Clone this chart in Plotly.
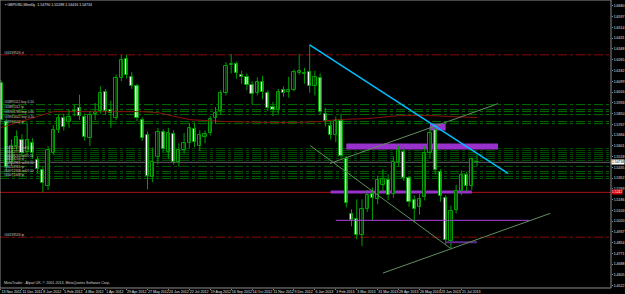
import plotly.graph_objects as go

# ---------------- data ----------------
date_labels = ["13 Nov 2011", "11 Dec 2011", "8 Jan 2012", "5 Feb 2012", "4 Mar 2012", "1 Apr 2012",
               "29 Apr 2012", "27 May 2012", "24 Jun 2012", "22 Jul 2012", "19 Aug 2012", "16 Sep 2012",
               "14 Oct 2012", "11 Nov 2012", "9 Dec 2012", "6 Jan 2013", "3 Feb 2013", "3 Mar 2013",
               "31 Mar 2013", "28 Apr 2013", "26 May 2013", "23 Jun 2013", "21 Jul 2013"]
date_bars = [0, 4, 8, 12, 16, 20, 24, 28, 32, 36, 40, 44, 48, 52, 56, 60, 64, 68, 72, 76, 80, 84, 88]

opens = [1.6088, 1.5788, 1.5480, 1.5596, 1.5649, 1.5557, 1.5626, 1.5488, 1.5411, 1.5288,
         1.5549, 1.5726, 1.5819, 1.5788, 1.5865, 1.5895, 1.5826, 1.5665, 1.5849, 1.5872,
         1.6019, 1.5880, 1.5819, 1.6126, 1.6273, 1.6134, 1.6065, 1.5803, 1.5688, 1.5357,
         1.5511, 1.5711, 1.5557, 1.5696, 1.5473, 1.5572, 1.5626, 1.5734, 1.5603, 1.5672,
         1.5703, 1.5819, 1.5872, 1.6011, 1.6226, 1.6234, 1.6149, 1.6134, 1.6072, 1.6011,
         1.6095, 1.6011, 1.5903, 1.5880, 1.6034, 1.6019, 1.6034, 1.6165, 1.6157, 1.6172,
         1.6065, 1.6126, 1.5849, 1.5757, 1.5688, 1.5796, 1.5503, 1.5073, 1.5034, 1.4911,
         1.5111, 1.5226, 1.5188, 1.5296, 1.5334, 1.5226, 1.5473, 1.5557, 1.5349, 1.5180,
         1.5126, 1.5203, 1.5549, 1.5726, 1.5400, 1.5196, 1.4865, 1.5103, 1.5250, 1.5373,
         1.5288, 1.54790]
highs = [1.6110, 1.5810, 1.5650, 1.5720, 1.5690, 1.5780, 1.5660, 1.5520, 1.5440, 1.5600,
         1.5760, 1.5840, 1.5850, 1.5880, 1.5920, 1.5995, 1.5850, 1.5870, 1.5930, 1.6060,
         1.6040, 1.5950, 1.6150, 1.6300, 1.6303, 1.6170, 1.6080, 1.5820, 1.5710, 1.5588,
         1.5740, 1.5730, 1.5740, 1.5720, 1.5620, 1.5700, 1.5780, 1.5780, 1.5720, 1.5720,
         1.5830, 1.5900, 1.6030, 1.6245, 1.6309, 1.6250, 1.6180, 1.6160, 1.6100, 1.6130,
         1.6140, 1.6030, 1.5940, 1.6040, 1.6060, 1.6134, 1.6190, 1.6311, 1.6203, 1.6380,
         1.6180, 1.6160, 1.5895, 1.5790, 1.5826, 1.5849, 1.5520, 1.5111, 1.5188, 1.5188,
         1.5260, 1.5280, 1.5370, 1.5420, 1.5380, 1.5520, 1.5603, 1.5590, 1.5370, 1.5220,
         1.5230, 1.5600, 1.5750, 1.5757, 1.5420, 1.5220, 1.5140, 1.5300, 1.5410, 1.5400,
         1.5510, 1.55288]
lows = [1.5780, 1.5410, 1.5450, 1.5560, 1.5520, 1.5530, 1.5500, 1.5390, 1.5242, 1.5260,
        1.5530, 1.5700, 1.5720, 1.5740, 1.5830, 1.5800, 1.5640, 1.5600, 1.5800, 1.5850,
        1.5840, 1.5740, 1.5800, 1.6100, 1.6120, 1.6040, 1.5790, 1.5640, 1.5265, 1.5320,
        1.5460, 1.5550, 1.5500, 1.5457, 1.5440, 1.5540, 1.5580, 1.5590, 1.5560, 1.5620,
        1.5680, 1.5770, 1.5840, 1.5990, 1.6160, 1.6120, 1.6080, 1.6030, 1.5918, 1.5990,
        1.5960, 1.5870, 1.5830, 1.5850, 1.5980, 1.5972, 1.6020, 1.6150, 1.6080, 1.6011,
        1.5990, 1.5840, 1.5749, 1.5650, 1.5630, 1.5500, 1.5126, 1.4980, 1.4880, 1.4827,
        1.5090, 1.5026, 1.5150, 1.5250, 1.5180, 1.5200, 1.5440, 1.5330, 1.5130, 1.5010,
        1.5070, 1.5180, 1.5500, 1.5380, 1.5170, 1.4840, 1.4811, 1.5080, 1.5220, 1.5250,
        1.5260, 1.54416]
closes = [1.5803, 1.5434, 1.5596, 1.5672, 1.5542, 1.5649, 1.5542, 1.5419, 1.5311, 1.5572,
          1.5726, 1.5819, 1.5749, 1.5826, 1.5872, 1.5834, 1.5672, 1.5842, 1.5865, 1.6011,
          1.5872, 1.5857, 1.6126, 1.6265, 1.6149, 1.6065, 1.5819, 1.5665, 1.5365, 1.5473,
          1.5711, 1.5580, 1.5703, 1.5480, 1.5572, 1.5619, 1.5742, 1.5634, 1.5688, 1.5696,
          1.5811, 1.5857, 1.6011, 1.6218, 1.6234, 1.6165, 1.6134, 1.6072, 1.6003, 1.6095,
          1.6019, 1.5895, 1.5880, 1.6019, 1.6011, 1.6034, 1.6172, 1.6180, 1.6165, 1.6065,
          1.6134, 1.5865, 1.5796, 1.5688, 1.5796, 1.5519, 1.5157, 1.5026, 1.4911, 1.5111,
          1.5219, 1.5196, 1.5334, 1.5342, 1.5219, 1.5473, 1.5572, 1.5349, 1.5165, 1.5111,
          1.5188, 1.5549, 1.5703, 1.5411, 1.5211, 1.4873, 1.5096, 1.5250, 1.5373, 1.5288,
          1.5496, 1.54734]

ma_bars = [0, 10, 22, 27, 30, 36, 43, 55, 61, 64, 70, 76, 82, 87, 91]
ma_values = [1.5742, 1.5865, 1.5865, 1.5865, 1.5857, 1.5803, 1.5788, 1.5780, 1.5788, 1.5803,
             1.5811, 1.5834, 1.5834, 1.5826, 1.5819]

price_ticks = [1.6680, 1.6597, 1.6514, 1.6431, 1.6348, 1.6265, 1.6182, 1.6099, 1.6016, 1.5933,
               1.5850, 1.5767, 1.5684, 1.5601, 1.5518, 1.5435, 1.5352, 1.5269, 1.5186, 1.5103,
               1.5020, 1.4937, 1.4854, 1.4771, 1.4688, 1.4605, 1.4522]

green_levels_upper = [1.5919, 1.5880, 1.5865, 1.5842, 1.5788, 1.5772]
green_levels_band = [1.5580, 1.5565, 1.5549, 1.5534, 1.5519, 1.5503, 1.5488]
green_levels_lower = [1.5442, 1.5403, 1.5388, 1.5365, 1.5349]
red_dashdot_levels = [1.6303, 1.4896]
red_solid_level = 1.5242

order_label_prices = [1.6318, 1.5942, 1.5903, 1.5865, 1.5826, 1.5788,
                      1.5588, 1.5557, 1.5526, 1.5496, 1.5465, 1.5434, 1.5403, 1.5373, 1.4911]
order_label_texts = ["#44139526 sl", "#43895112 buy 0.10", "#43895112 tp", "#43901785 buy 0.10",
                     "#43931642 buy 0.10", "#43931642 tp",
                     "#44012577 sell 0.10", "#44012577 sl", "#44038210 sell 0.10", "#44038210 sl",
                     "#44052961 sell 0.10", "#44052961 tp", "#44071348 sell 0.10",
                     "#44071348 tp", "#44139526 tp"]

cyan_trend = ([59, 96.9], [1.6380, 1.5388])
channel_lines = [([59.1, 85.9], [1.5603, 1.4811]),
                 ([62.9, 95.0], [1.5465, 1.5926]),
                 ([73.0, 105.0], [1.4619, 1.5080])]
rects = [([82, 85], [1.5719, 1.5772]),
         ([66, 95], [1.5572, 1.5619]),
         ([63, 90], [1.5234, 1.5257])]
violet_line = ([64, 101], 1.5026)
dark_purple_line = ([85, 91], 1.4857)

symbol = "GBPUSD,Weekly"
copyright_text = "MetaTrader - Alpari UK, \u00a9 2001-2013, MetaQuotes Software Corp."

# ---------------- figure ----------------
FONT = "Liberation Sans Narrow, Liberation Sans"
GREEN = "#00a000"
fig = go.Figure()

n = len(opens)
xs = list(range(n))

fig.add_trace(go.Scatter(x=ma_bars, y=ma_values, mode="lines",
                         line=dict(color="#8b1010", width=1), hoverinfo="skip"))

wx, wy = [], []
for i in xs:
    wx += [i, i, None]
    wy += [lows[i], highs[i], None]
fig.add_trace(go.Scatter(x=wx, y=wy, mode="lines", line=dict(color=GREEN, width=1),
                         hoverinfo="skip"))

base = [min(o, c) for o, c in zip(opens, closes)]
height = [max(abs(c - o), 0.00012) for o, c in zip(opens, closes)]
fills = ["#000000" if c >= o else "#ffffff" for o, c in zip(opens, closes)]
fig.add_trace(go.Bar(x=xs, y=height, base=base, width=0.62,
                     marker=dict(color=fills, line=dict(color=GREEN, width=1)),
                     hoverinfo="skip"))

shapes = []


def hline(level, color, dash=None):
    ln = dict(color=color, width=1)
    if dash:
        ln["dash"] = dash
    return dict(type="line", xref="paper", x0=0, x1=1, yref="y", y0=level, y1=level,
                line=ln, layer="below")


for lv in green_levels_upper:
    shapes.append(hline(lv, "#007000", "dashdot"))
for lv in green_levels_band:
    shapes.append(hline(lv, "#004d00", "dashdot"))
for lv in green_levels_lower:
    shapes.append(hline(lv, "#006000", "dashdot"))
for lv in red_dashdot_levels:
    shapes.append(hline(lv, "#8a0a0a", "dashdot"))
shapes.append(hline(red_solid_level, "#b01010"))
shapes.append(hline(closes[-1], "#5e5e5e"))
for (rx, ry) in rects:
    shapes.append(dict(type="rect", x0=rx[0], x1=rx[1], y0=ry[0], y1=ry[1],
                       fillcolor="#9932cc", line=dict(width=0), layer="below"))
shapes.append(dict(type="line", x0=violet_line[0][0], x1=violet_line[0][1],
                   y0=violet_line[1], y1=violet_line[1], line=dict(color="#b040e0", width=1)))
shapes.append(dict(type="line", x0=dark_purple_line[0][0], x1=dark_purple_line[0][1],
                   y0=dark_purple_line[1], y1=dark_purple_line[1],
                   line=dict(color="#5b2a8a", width=2)))
for (lx, ly) in channel_lines:
    shapes.append(dict(type="line", x0=lx[0], x1=lx[1], y0=ly[0], y1=ly[1],
                       line=dict(color="#5f8f5f", width=1)))
shapes.append(dict(type="line", x0=cyan_trend[0][0], x1=cyan_trend[0][1],
                   y0=cyan_trend[1][0], y1=cyan_trend[1][1],
                   line=dict(color="#00bfff", width=1.5)))
shapes.append(dict(type="rect", xref="paper", yref="paper", x0=0, x1=1, y0=0, y1=1,
                   line=dict(color="#8a8a8a", width=1)))

annotations = []
for p, t in zip(order_label_prices, order_label_texts):
    annotations.append(dict(xref="paper", x=0.004, y=p, yref="y", text=t, showarrow=False,
                            xanchor="left", yanchor="middle",
                            font=dict(family=FONT, size=3.3, color="#c8c8c8")))
annotations.append(dict(xref="paper", yref="paper", x=0.005, y=0.995, xanchor="left",
                        yanchor="top", showarrow=False,
                        text="\u25aa %s  %.5f %.5f %.5f %.5f" % (symbol, opens[-1], highs[-1],
                                                               lows[-1], closes[-1]),
                        font=dict(family=FONT, size=3.6, color="#e0e0e0")))
annotations.append(dict(xref="paper", yref="paper", x=0.003, y=0.004, xanchor="left",
                        yanchor="bottom", showarrow=False, text=copyright_text,
                        font=dict(family=FONT, size=3.6, color="#d0d0d0")))
annotations.append(dict(xref="paper", x=1.0, y=closes[-1], yref="y", xanchor="left",
                        showarrow=False, text="%.5f" % closes[-1], bgcolor="#ffffff",
                        borderpad=0, font=dict(family=FONT, size=3.4, color="#000000")))
annotations.append(dict(xref="paper", x=1.0, y=red_solid_level, yref="y", xanchor="left",
                        showarrow=False, text="%.4f" % red_solid_level, bgcolor="#cc0000",
                        borderpad=0, font=dict(family=FONT, size=3.4, color="#ffffff")))

fig.update_layout(
    width=625, height=294,
    margin=dict(l=0, r=14, t=0, b=6, autoexpand=False),
    paper_bgcolor="#000000", plot_bgcolor="#000000",
    showlegend=False, bargap=0,
    shapes=shapes, annotations=annotations,
    xaxis=dict(range=[-0.19, 116.6], tickvals=date_bars, ticktext=date_labels,
               tickangle=0, automargin=False,
               ticklabelposition="outside right", ticks="outside", ticklen=1,
               tickcolor="#8a8a8a", showgrid=False, zeroline=False, showline=False,
               tickfont=dict(family=FONT, size=3.6, color="#e0e0e0"), fixedrange=True),
    yaxis=dict(range=[1.4504, 1.6726], side="right", tickvals=price_ticks, automargin=False,
               ticktext=["%.4f" % v for v in price_ticks], ticks="outside", ticklen=1,
               tickcolor="#8a8a8a", showgrid=False, zeroline=False, showline=False,
               tickfont=dict(family=FONT, size=3.5, color="#e0e0e0"), fixedrange=True),
)

fig.write_html("out.html")
